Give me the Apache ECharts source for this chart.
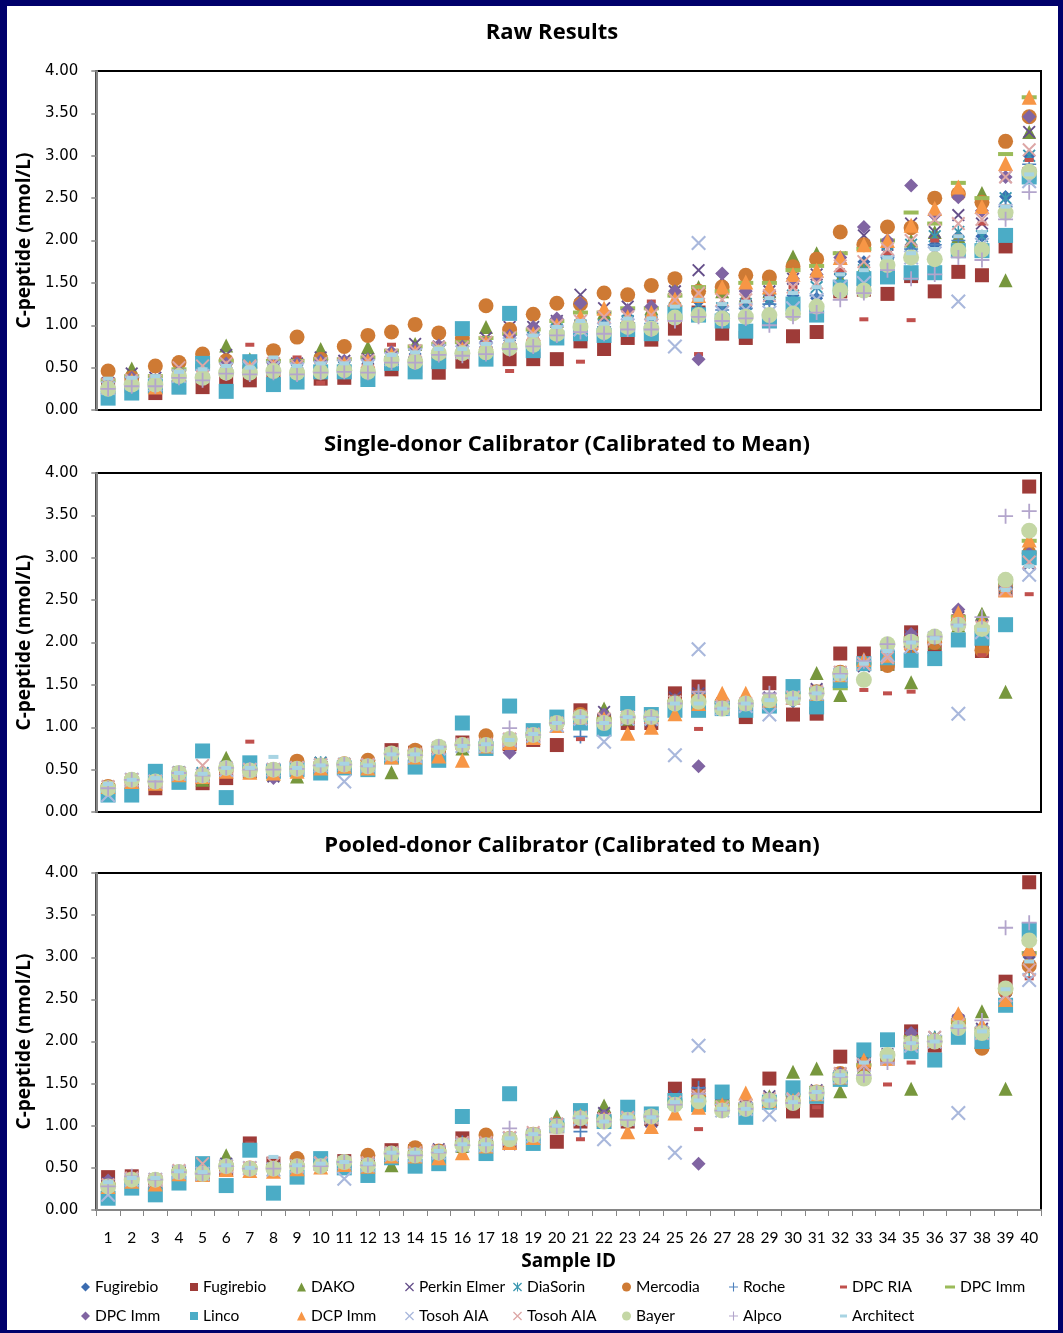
<!DOCTYPE html>
<html><head><meta charset="utf-8">
<script src="https://cdn.jsdelivr.net/npm/echarts@6/dist/echarts.min.js"></script>
<style>
html,body{margin:0;padding:0;width:1063px;height:1333px;background:#00006b;overflow:hidden}
#c{position:absolute;left:7px;top:6px;width:1051px;height:1324px;background:#fff}
</style></head><body><div id="c"></div>
<script>
// ---------- categories / ticks ----------
const sampleIds = ['1','2','3','4','5','6','7','8','9','10','11','12','13','14','15','16','17','18','19','20','21','22','23','24','25','26','27','28','29','30','31','32','33','34','35','36','37','38','39','40'];
const panelTitles = ['Raw Results','Single-donor Calibrator (Calibrated to Mean)','Pooled-donor Calibrator (Calibrated to Mean)'];
const methodNames = ['Fugirebio','Fugirebio','DAKO','Perkin Elmer','DiaSorin','Mercodia','Roche','DPC RIA','DPC Imm','DPC Imm','Linco','DCP Imm','Tosoh AIA','Tosoh AIA','Bayer','Alpco','Architect'];

// ---------- Raw Results ----------
const rawFugirebioDia = [0.30,0.33,0.33,0.42,0.47,0.50,0.48,0.52,0.50,0.52,0.53,0.55,0.62,0.66,0.72,0.72,0.78,0.82,0.88,0.98,1.05,1.05,1.10,1.10,1.25,1.28,1.22,1.22,1.30,1.35,1.32,1.60,1.75,1.78,1.95,1.95,2.05,2.05,2.52,3.00];
const rawFugirebioSq = [0.30,0.28,0.20,0.27,0.27,0.32,0.35,0.38,0.36,0.37,0.38,0.40,0.48,0.52,0.44,0.57,0.62,0.60,0.60,0.60,0.81,0.72,0.85,0.83,0.96,1.15,0.90,0.85,1.05,0.87,0.92,1.40,1.42,1.37,1.58,1.40,1.63,1.59,1.93,2.78];
const rawDako = [0.30,0.49,0.35,0.45,0.55,0.76,0.60,0.55,0.50,0.72,0.55,0.74,0.62,0.78,0.70,0.72,0.98,0.85,0.90,1.05,1.10,1.15,1.10,1.20,1.45,1.45,1.40,1.35,1.40,1.81,1.85,1.55,1.70,1.75,2.00,2.10,2.05,2.56,1.53,3.28];
const rawPerkin = [0.32,0.43,0.38,0.48,0.55,0.65,0.52,0.55,0.55,0.62,0.58,0.60,0.62,0.78,0.75,0.72,0.85,0.98,0.98,1.05,1.36,1.20,1.22,1.15,1.40,1.65,1.55,1.35,1.40,1.55,1.60,1.80,2.06,1.95,2.20,2.10,2.30,2.20,2.75,3.28];
const rawDiaSorin = [0.28,0.35,0.32,0.42,0.45,0.48,0.46,0.50,0.47,0.50,0.50,0.52,0.60,0.65,0.70,0.70,0.75,0.80,0.85,0.95,1.00,1.00,1.05,1.05,1.20,1.25,1.20,1.25,1.30,1.35,1.45,1.55,1.65,1.85,1.95,2.05,2.10,2.05,2.50,3.00];
const rawMercodia = [0.46,0.38,0.52,0.56,0.66,0.58,0.50,0.70,0.86,0.60,0.75,0.88,0.92,1.01,0.91,0.85,1.23,0.95,1.13,1.26,1.25,1.38,1.36,1.47,1.55,1.40,1.45,1.59,1.57,1.69,1.78,2.10,1.95,2.16,2.15,2.50,2.55,2.45,3.17,3.46];
const rawRoche = [0.27,0.32,0.32,0.40,0.42,0.47,0.45,0.48,0.46,0.48,0.48,0.50,0.60,0.62,0.70,0.70,0.74,0.78,0.82,0.92,1.00,0.98,1.02,1.02,1.18,1.20,1.18,1.20,1.25,1.30,1.35,1.50,1.60,1.80,1.90,1.95,2.00,1.95,2.40,2.90];
const rawDpcRia = [0.35,0.40,0.38,0.45,0.50,0.50,0.77,0.55,0.62,0.32,0.55,0.55,0.77,0.72,0.60,0.62,0.72,0.46,0.85,0.95,0.57,1.00,1.05,1.28,1.05,0.66,1.25,1.30,1.35,1.45,1.55,1.65,1.07,1.85,1.06,2.00,2.05,2.20,2.40,2.95];
const rawDpcImmDash = [0.35,0.40,0.40,0.48,0.52,0.58,0.58,0.58,0.58,0.60,0.60,0.62,0.70,0.75,0.78,0.80,0.85,0.90,0.95,1.05,1.15,1.15,1.20,1.20,1.35,1.45,1.40,1.50,1.50,1.65,1.70,1.85,1.90,2.00,2.33,2.20,2.68,2.50,3.02,3.69];
const rawDpcImmDia = [0.30,0.38,0.35,0.45,0.50,0.55,0.52,0.55,0.55,0.58,0.58,0.60,0.68,0.72,0.76,0.75,0.80,0.88,0.98,1.08,1.26,1.15,1.18,1.22,1.40,0.60,1.61,1.40,1.40,1.55,1.60,1.80,2.16,2.00,2.65,2.30,2.51,2.35,2.75,3.46];
const rawLinco = [0.14,0.20,0.28,0.27,0.55,0.22,0.57,0.30,0.33,0.45,0.45,0.36,0.55,0.45,0.57,0.96,0.60,1.14,0.70,0.85,0.90,0.88,0.95,0.90,1.15,1.12,1.05,0.93,1.05,1.25,1.12,1.45,1.55,1.57,1.62,1.62,1.88,1.88,2.06,2.75];
const rawDcpImm = [0.28,0.35,0.27,0.42,0.45,0.50,0.50,0.52,0.52,0.55,0.55,0.58,0.65,0.68,0.70,0.72,0.80,0.85,0.90,1.00,1.10,1.20,1.10,1.15,1.31,1.35,1.45,1.51,1.45,1.60,1.65,1.80,1.95,2.00,2.18,2.38,2.63,2.40,2.91,3.69];
const rawTosohBlue = [0.26,0.32,0.30,0.40,0.40,0.48,0.50,0.50,0.48,0.50,0.52,0.52,0.60,0.65,0.70,0.68,0.72,0.78,0.82,0.92,0.95,0.95,1.00,1.00,0.75,1.97,1.15,1.18,1.15,1.20,1.30,1.45,1.50,1.75,1.80,1.85,1.28,1.95,2.35,2.70];
const rawTosohPink = [0.30,0.35,0.34,0.50,0.52,0.55,0.52,0.55,0.52,0.55,0.55,0.58,0.65,0.70,0.74,0.74,0.80,0.85,0.90,1.00,1.05,1.10,1.10,1.12,1.30,1.38,1.30,1.30,1.35,1.45,1.50,1.70,1.75,1.90,2.00,2.25,2.20,2.25,2.75,3.07];
const rawBayer = [0.25,0.30,0.30,0.40,0.38,0.44,0.44,0.46,0.44,0.45,0.47,0.45,0.59,0.57,0.67,0.67,0.68,0.73,0.77,0.90,0.98,0.92,0.98,0.96,1.09,1.12,1.08,1.10,1.12,1.14,1.22,1.41,1.41,1.71,1.80,1.78,1.88,1.89,2.33,2.81];
const rawAlpco = [0.25,0.28,0.28,0.38,0.35,0.43,0.42,0.44,0.42,0.44,0.45,0.44,0.56,0.56,0.65,0.64,0.66,0.72,0.75,0.88,0.92,0.90,0.95,0.95,1.05,1.10,1.05,1.08,1.00,1.10,1.15,1.30,1.38,1.65,1.55,1.60,1.80,1.77,2.25,2.57];
const rawArchitect = [0.37,0.38,0.40,0.45,0.48,0.52,0.50,0.62,0.52,0.55,0.55,0.55,0.65,0.68,0.72,0.72,0.78,0.82,0.88,0.98,1.05,1.02,1.08,1.08,1.22,1.30,1.25,1.28,1.32,1.38,1.45,1.60,1.65,1.80,1.85,1.90,2.05,2.10,2.40,2.78];

// ---------- Single-donor calibrator ----------
const sdFugirebioDia = [0.30,0.37,0.35,0.45,0.45,0.50,0.50,0.48,0.52,0.57,0.56,0.55,0.66,0.68,0.75,0.78,0.80,0.85,0.92,1.02,1.10,1.08,1.10,1.10,1.30,1.35,1.25,1.25,1.30,1.30,1.42,1.60,1.75,1.85,2.00,2.05,2.25,2.15,2.65,2.95];
const sdFugirebioSq = [0.26,0.34,0.28,0.42,0.34,0.40,0.48,0.48,0.50,0.52,0.52,0.52,0.73,0.70,0.68,0.82,0.80,0.80,0.85,0.79,1.20,1.08,1.05,1.05,1.40,1.48,1.25,1.12,1.52,1.15,1.16,1.87,1.87,1.75,2.12,1.95,2.25,1.90,2.62,3.84];
const sdDako = [0.30,0.36,0.34,0.45,0.38,0.64,0.48,0.45,0.42,0.55,0.55,0.52,0.47,0.66,0.62,0.75,0.78,0.82,0.88,1.02,1.10,1.22,1.10,1.10,1.30,1.40,1.35,1.32,1.35,1.45,1.64,1.38,1.75,1.75,1.53,2.00,2.20,2.34,1.42,3.15];
const sdPerkin = [0.30,0.38,0.36,0.47,0.45,0.52,0.50,0.42,0.53,0.58,0.56,0.56,0.68,0.70,0.75,0.80,0.82,0.76,0.92,1.05,1.10,1.18,1.10,1.08,1.35,1.40,1.28,1.25,1.35,1.35,1.45,1.65,1.72,1.90,2.08,2.05,2.30,2.20,2.65,2.92];
const sdDiaSorin = [0.30,0.38,0.37,0.47,0.46,0.53,0.50,0.50,0.52,0.58,0.57,0.55,0.69,0.68,0.76,0.78,0.80,0.85,0.92,1.05,1.12,1.10,1.12,1.12,1.30,1.32,1.25,1.28,1.32,1.36,1.40,1.65,1.75,1.82,1.90,2.05,2.25,2.12,2.65,2.95];
const sdMercodia = [0.30,0.38,0.36,0.45,0.42,0.50,0.50,0.50,0.60,0.55,0.57,0.61,0.68,0.73,0.74,0.80,0.90,0.86,0.93,1.05,1.15,1.08,1.12,1.10,1.30,1.36,1.28,1.25,1.32,1.35,1.42,1.65,1.75,1.73,1.95,2.00,2.25,1.91,2.65,3.05];
const sdRoche = [0.28,0.37,0.36,0.46,0.43,0.52,0.50,0.50,0.52,0.56,0.56,0.55,0.68,0.68,0.76,0.80,0.80,0.85,0.90,1.05,0.89,1.05,1.12,1.12,1.28,1.40,1.25,1.28,1.30,1.35,1.42,1.60,1.78,1.85,1.95,2.05,2.20,2.15,2.65,3.00];
const sdDpcRia = [0.30,0.38,0.34,0.45,0.45,0.55,0.83,0.52,0.55,0.56,0.55,0.57,0.70,0.70,0.70,0.75,0.80,0.85,0.88,1.00,0.86,1.08,1.10,1.08,1.35,0.98,1.25,1.30,1.30,1.40,1.20,1.65,1.44,1.40,1.42,2.05,2.20,1.85,2.62,2.57];
const sdDpcImmDash = [0.30,0.38,0.37,0.46,0.45,0.52,0.50,0.52,0.52,0.56,0.56,0.55,0.68,0.70,0.76,0.80,0.80,0.85,0.92,1.05,1.12,1.10,1.12,1.12,1.30,1.32,1.30,1.30,1.32,1.40,1.45,1.46,1.75,1.85,2.05,2.05,2.30,2.18,2.70,3.20];
const sdDpcImmDia = [0.30,0.37,0.35,0.46,0.44,0.52,0.50,0.40,0.52,0.56,0.57,0.55,0.69,0.68,0.75,0.78,0.80,0.70,0.90,1.05,1.12,1.15,1.10,1.08,1.32,0.54,1.28,1.28,1.32,1.38,1.42,1.65,1.78,1.88,2.10,2.05,2.39,2.20,2.68,3.05];
const sdLinco = [0.20,0.20,0.48,0.35,0.72,0.17,0.58,0.48,0.50,0.46,0.52,0.50,0.65,0.53,0.61,1.05,0.75,1.25,0.96,1.12,1.05,0.98,1.28,1.15,1.20,1.20,1.22,1.20,1.25,1.48,1.24,1.55,1.75,1.82,1.79,1.81,2.03,2.05,2.21,3.00];
const sdDcpImm = [0.30,0.36,0.34,0.44,0.42,0.48,0.47,0.46,0.48,0.52,0.54,0.52,0.65,0.65,0.66,0.61,0.78,0.82,0.88,1.02,1.12,1.10,0.93,1.00,1.16,1.28,1.40,1.40,1.32,1.35,1.40,1.62,1.80,1.85,2.00,2.07,2.35,2.25,2.62,3.21];
const sdTosohBlue = [0.20,0.38,0.36,0.45,0.43,0.50,0.50,0.50,0.52,0.55,0.36,0.55,0.68,0.66,0.75,0.78,0.78,0.85,0.90,1.02,1.10,0.83,1.10,1.10,0.67,1.92,1.22,1.25,1.15,1.35,1.40,1.62,1.75,1.85,1.95,2.05,1.16,2.12,2.70,2.80];
const sdTosohPink = [0.30,0.38,0.36,0.46,0.55,0.52,0.50,0.50,0.52,0.56,0.56,0.56,0.69,0.68,0.76,0.80,0.80,0.86,0.92,1.05,1.12,1.10,1.12,1.12,1.30,1.35,1.25,1.28,1.32,1.35,1.42,1.65,1.75,1.82,2.00,2.05,2.22,2.18,2.62,2.95];
const sdBayer = [0.28,0.38,0.36,0.46,0.43,0.52,0.49,0.50,0.51,0.55,0.56,0.54,0.69,0.67,0.77,0.79,0.79,0.86,0.91,1.05,1.12,1.05,1.12,1.12,1.28,1.30,1.22,1.28,1.32,1.34,1.40,1.63,1.56,1.98,2.01,2.07,2.21,2.16,2.74,3.32];
const sdAlpco = [0.28,0.38,0.36,0.46,0.43,0.52,0.50,0.50,0.51,0.55,0.56,0.54,0.68,0.67,0.77,0.79,0.79,0.99,0.91,1.05,1.12,1.05,1.12,1.12,1.28,1.42,1.22,1.28,1.40,1.34,1.40,1.63,1.78,1.98,2.01,2.07,2.21,2.30,3.49,3.55];
const sdArchitect = [0.33,0.38,0.40,0.46,0.45,0.52,0.52,0.65,0.52,0.55,0.57,0.55,0.68,0.68,0.76,0.78,0.80,0.85,0.92,1.05,1.12,1.05,1.12,1.10,1.28,1.28,1.22,1.28,1.32,1.34,1.40,1.60,1.75,1.90,2.00,2.05,2.20,2.15,2.62,2.90];

// ---------- Pooled-donor calibrator ----------
const pdFugirebioDia = [0.30,0.38,0.35,0.46,0.45,0.52,0.50,0.50,0.53,0.55,0.56,0.55,0.67,0.66,0.70,0.78,0.78,0.85,0.90,1.00,1.10,1.08,1.08,1.10,1.28,1.35,1.22,1.22,1.30,1.32,1.40,1.60,1.70,1.80,1.95,2.00,2.20,2.08,2.55,3.00];
const pdFugirebioSq = [0.39,0.40,0.33,0.44,0.42,0.48,0.79,0.55,0.55,0.55,0.58,0.55,0.71,0.70,0.68,0.85,0.78,0.80,0.88,0.81,1.05,1.08,1.05,1.08,1.44,1.48,1.25,1.20,1.56,1.17,1.18,1.82,1.75,1.80,2.12,1.95,2.20,2.00,2.71,3.89];
const pdDako = [0.30,0.36,0.36,0.45,0.43,0.65,0.50,0.48,0.50,0.55,0.56,0.52,0.53,0.65,0.66,0.76,0.78,0.80,0.85,1.11,1.10,1.24,1.10,1.10,1.30,1.35,1.25,1.25,1.35,1.64,1.68,1.41,1.70,1.85,1.44,2.05,2.20,2.36,1.44,3.10];
const pdPerkin = [0.32,0.38,0.36,0.46,0.46,0.55,0.50,0.48,0.54,0.57,0.57,0.55,0.68,0.68,0.72,0.80,0.80,0.78,0.90,1.02,1.10,1.15,1.10,1.05,1.35,1.40,1.25,1.22,1.35,1.32,1.42,1.62,1.72,1.85,2.08,2.05,2.25,2.15,2.55,2.95];
const pdDiaSorin = [0.30,0.37,0.36,0.46,0.45,0.53,0.50,0.50,0.53,0.56,0.57,0.55,0.68,0.67,0.70,0.78,0.80,0.85,0.90,1.02,1.10,1.08,1.10,1.10,1.28,1.32,1.22,1.25,1.32,1.33,1.40,1.62,1.75,1.82,1.95,2.05,2.22,2.12,2.55,2.85];
const pdMercodia = [0.30,0.37,0.36,0.45,0.42,0.50,0.50,0.50,0.61,0.55,0.57,0.65,0.66,0.74,0.70,0.78,0.89,0.85,0.90,1.02,1.12,1.08,1.08,1.10,1.28,1.35,1.25,1.22,1.30,1.30,1.40,1.62,1.72,1.80,1.95,2.00,2.22,1.92,2.60,2.90];
const pdRoche = [0.28,0.36,0.36,0.45,0.43,0.52,0.50,0.50,0.52,0.55,0.56,0.54,0.67,0.66,0.70,0.80,0.78,0.85,0.88,1.00,0.93,1.05,1.08,1.10,1.26,1.45,1.30,1.22,1.30,1.30,1.40,1.60,1.78,1.80,1.95,2.02,2.15,2.12,2.60,3.05];
const pdDpcRia = [0.30,0.38,0.35,0.45,0.45,0.55,0.79,0.52,0.55,0.55,0.55,0.57,0.70,0.68,0.66,0.75,0.78,0.83,0.86,0.98,0.84,1.08,1.10,1.08,1.35,0.96,1.25,1.30,1.30,1.38,1.22,1.65,1.60,1.49,1.75,2.05,2.20,1.95,2.55,2.75];
const pdDpcImmDash = [0.30,0.37,0.36,0.46,0.45,0.53,0.50,0.52,0.53,0.56,0.56,0.55,0.67,0.68,0.70,0.80,0.80,0.85,0.92,1.02,1.10,1.10,1.10,1.12,1.30,1.32,1.28,1.25,1.32,1.36,1.45,1.55,1.72,1.85,2.05,2.05,2.25,2.15,2.62,3.05];
const pdDpcImmDia = [0.35,0.37,0.35,0.45,0.44,0.52,0.50,0.48,0.52,0.56,0.56,0.55,0.68,0.67,0.70,0.78,0.78,0.80,0.90,1.02,1.10,1.12,1.08,1.05,1.30,0.55,1.22,1.25,1.32,1.34,1.40,1.62,1.75,1.85,2.10,2.02,2.30,2.15,2.60,3.05];
const pdLinco = [0.14,0.26,0.18,0.32,0.55,0.29,0.71,0.20,0.39,0.61,0.50,0.41,0.62,0.52,0.55,1.11,0.67,1.38,0.79,1.00,1.18,1.05,1.22,1.14,1.30,1.25,1.40,1.10,1.28,1.45,1.35,1.55,1.90,2.02,1.88,1.78,2.05,2.00,2.43,3.32];
const pdDcpImm = [0.28,0.34,0.31,0.43,0.42,0.48,0.47,0.46,0.49,0.51,0.54,0.52,0.64,0.64,0.62,0.68,0.76,0.80,0.86,1.00,1.12,1.08,0.93,0.99,1.15,1.22,1.25,1.39,1.30,1.30,1.38,1.58,1.78,1.80,2.00,2.02,2.33,2.20,2.50,3.10];
const pdTosohBlue = [0.18,0.36,0.36,0.45,0.43,0.52,0.50,0.48,0.52,0.55,0.37,0.53,0.66,0.65,0.68,0.77,0.77,0.85,0.88,1.00,1.08,0.84,1.08,1.10,0.68,1.95,1.18,1.20,1.13,1.30,1.38,1.58,1.72,1.80,1.95,2.00,1.15,2.10,2.55,2.73];
const pdTosohPink = [0.30,0.38,0.36,0.47,0.55,0.52,0.50,0.55,0.52,0.56,0.56,0.56,0.68,0.68,0.70,0.80,0.80,0.86,0.92,1.02,1.10,1.08,1.10,1.10,1.28,1.35,1.22,1.25,1.32,1.32,1.40,1.62,1.72,1.80,1.98,2.05,2.20,2.10,2.55,2.85];
const pdBayer = [0.28,0.36,0.36,0.45,0.43,0.52,0.49,0.49,0.52,0.52,0.57,0.53,0.67,0.65,0.68,0.77,0.77,0.84,0.89,0.99,1.09,1.05,1.07,1.11,1.25,1.29,1.18,1.20,1.30,1.27,1.39,1.58,1.56,1.84,1.98,2.00,2.16,2.10,2.63,3.20];
const pdAlpco = [0.28,0.40,0.36,0.45,0.43,0.52,0.49,0.49,0.52,0.52,0.57,0.53,0.67,0.65,0.68,0.77,0.77,0.97,0.89,0.99,1.09,1.05,1.07,1.11,1.25,1.38,1.18,1.20,1.30,1.27,1.39,1.58,1.60,1.75,1.98,2.00,2.16,2.25,3.35,3.41];
const pdArchitect = [0.33,0.38,0.38,0.46,0.45,0.53,0.50,0.63,0.53,0.55,0.57,0.55,0.68,0.68,0.70,0.78,0.78,0.85,0.90,1.00,1.10,1.05,1.10,1.10,1.28,1.30,1.20,1.20,1.30,1.28,1.40,1.60,1.75,1.82,1.98,2.00,2.18,2.12,2.62,2.95];

const rawSeries = [rawFugirebioDia,rawFugirebioSq,rawDako,rawPerkin,rawDiaSorin,rawMercodia,rawRoche,rawDpcRia,rawDpcImmDash,rawDpcImmDia,rawLinco,rawDcpImm,rawTosohBlue,rawTosohPink,rawBayer,rawAlpco,rawArchitect];
const sdSeries = [sdFugirebioDia,sdFugirebioSq,sdDako,sdPerkin,sdDiaSorin,sdMercodia,sdRoche,sdDpcRia,sdDpcImmDash,sdDpcImmDia,sdLinco,sdDcpImm,sdTosohBlue,sdTosohPink,sdBayer,sdAlpco,sdArchitect];
const pdSeries = [pdFugirebioDia,pdFugirebioSq,pdDako,pdPerkin,pdDiaSorin,pdMercodia,pdRoche,pdDpcRia,pdDpcImmDash,pdDpcImmDia,pdLinco,pdDcpImm,pdTosohBlue,pdTosohPink,pdBayer,pdAlpco,pdArchitect];
const panels = [rawSeries, sdSeries, pdSeries];

// ---------- styles ----------
const X_PATH = 'path://M0,1L1,0L10,9L9,10Z M9,0L10,1L1,10L0,9Z';
const STAR_PATH = 'path://M0,1L1,0L10,9L9,10Z M9,0L10,1L1,10L0,9Z M4.4,0H5.6V10H4.4Z';
const PLUS_PATH = 'path://M4.4,0H5.6V4.4H10V5.6H5.6V10H4.4V5.6H0V4.4H4.4Z';
const styles = [
  {symbol:'diamond', size:13, color:'#3B6CB0', lw:9, lh:9},
  {symbol:'rect', size:14, color:'#9E3B38', lw:8, lh:8},
  {symbol:'triangle', size:14, color:'#77973D', lw:9, lh:9},
  {symbol:X_PATH, size:13, color:'#654F8A', lw:9, lh:9},
  {symbol:STAR_PATH, size:13, color:'#3A97B0', lw:9, lh:9},
  {symbol:'circle', size:15, color:'#CE7A34', lw:9, lh:9},
  {symbol:PLUS_PATH, size:14, color:'#4F81BD', lw:9, lh:9},
  {symbol:'rect', size:[9,4], color:'#C0504D', lw:7, lh:3},
  {symbol:'rect', size:[15,4], color:'#9BBB59', lw:10, lh:3},
  {symbol:'diamond', size:14, color:'#8064A2', lw:9, lh:9},
  {symbol:'rect', size:15, color:'#4BACC6', lw:8, lh:8},
  {symbol:'triangle', size:15, color:'#F79646', lw:9, lh:9},
  {symbol:X_PATH, size:15, color:'#A9B8DC', lw:9, lh:9},
  {symbol:X_PATH, size:14, color:'#DDA7A6', lw:9, lh:9},
  {symbol:'circle', size:16, color:'#C4D7A5', lw:9, lh:9},
  {symbol:PLUS_PATH, size:15, color:'#B3A5CC', lw:9, lh:9},
  {symbol:'rect', size:[10,4], color:'#A8D4E3', lw:7, lh:3}
];
const OX = 7, OY = 6;
const gridTops = [71, 473, 873];
const gridHeights = [339, 339, 337];
const titleCenters = [[552,33],[567,445],[572,846]];
const legendTextX = [95,203,311,419,527,636,743,852,960];
const legendRowY = [1287,1316];

// unique internal names (zero-width suffix for duplicates), stripped for display
const seen = {};
const uniqNames = methodNames.map(n => { seen[n] = (seen[n]||0)+1; return seen[n] > 1 ? n + '\u200b' : n; });

const grids = [], xAxes = [], yAxes = [], series = [], graphics = [];
for (let p = 0; p < 3; p++) {
  grids.push({left: 93-OX, top: gridTops[p]-OY, width: 948, height: gridHeights[p], show: true, borderColor: '#000', borderWidth: 2, backgroundColor: 'transparent'});
  const last = p === 2;
  xAxes.push({
    gridIndex: p, type: 'category', data: sampleIds, boundaryGap: true,
    axisLine: {show: last, lineStyle: {color: '#868686', width: 2}},
    axisTick: {show: last, length: 6, interval: 0, lineStyle: {color: '#868686', width: 1}},
    axisLabel: {show: last, interval: 0, margin: 20, fontFamily: 'Lato', fontSize: 15.5, color: '#000'},
    splitLine: {show: false},
    name: last ? 'Sample ID' : '', nameLocation: 'middle', nameGap: 42,
    nameTextStyle: {fontFamily: 'Open Sans', fontWeight: 'bold', fontSize: 19, color: '#000'}
  });
  yAxes.push({
    gridIndex: p, type: 'value', min: 0, max: 4, interval: 0.5,
    axisLine: {show: true, lineStyle: {color: '#868686', width: 2}},
    axisTick: {show: true, length: 5, lineStyle: {color: '#868686', width: 1.5}},
    axisLabel: {formatter: v => v.toFixed(2), fontFamily: 'DejaVu Sans', fontSize: 15, color: '#000', margin: 18},
    splitLine: {show: false},
    name: 'C-peptide (nmol/L)', nameLocation: 'middle', nameRotate: 90, nameGap: 58,
    nameTextStyle: {fontFamily: 'Open Sans', fontWeight: 'bold', fontSize: 19, color: '#000'}
  });
  panels[p].forEach((vals, s) => {
    series.push({
      type: 'scatter', name: uniqNames[s], xAxisIndex: p, yAxisIndex: p,
      data: vals, symbol: styles[s].symbol, symbolSize: styles[s].size,
      itemStyle: {color: styles[s].color, opacity: 1}, emphasis: {disabled: true}, z: 2
    });
  });
  graphics.push({type: 'text', x: titleCenters[p][0]-OX, y: titleCenters[p][1]-OY,
    style: {text: panelTitles[p], fontFamily: 'Open Sans', fontWeight: 'bold', fontSize: 22, fill: '#000', textAlign: 'center', textVerticalAlign: 'middle'}});
}

const legends = uniqNames.map((n, i) => {
  const row = i < 9 ? 0 : 1;
  const col = i < 9 ? i : i - 9;
  const st = styles[i];
  return {
    data: [{name: n, icon: st.symbol}],
    left: legendTextX[col] - OX - st.lw - 5,
    top: legendRowY[row] - OY - 9,
    padding: 0, itemWidth: st.lw, itemHeight: st.lh, itemGap: 0,
    selectedMode: false,
    formatter: name => name.replace(/\u200b/g, ''),
    textStyle: {fontFamily: 'Lato', fontSize: 15.5, color: '#000', lineHeight: 18}
  };
});

const chart = echarts.init(document.getElementById('c'), null, {renderer: 'canvas'});
chart.setOption({
  animation: false,
  backgroundColor: '#fff',
  grid: grids, xAxis: xAxes, yAxis: yAxes, series: series,
  legend: legends, graphic: graphics
});
</script></body></html>
